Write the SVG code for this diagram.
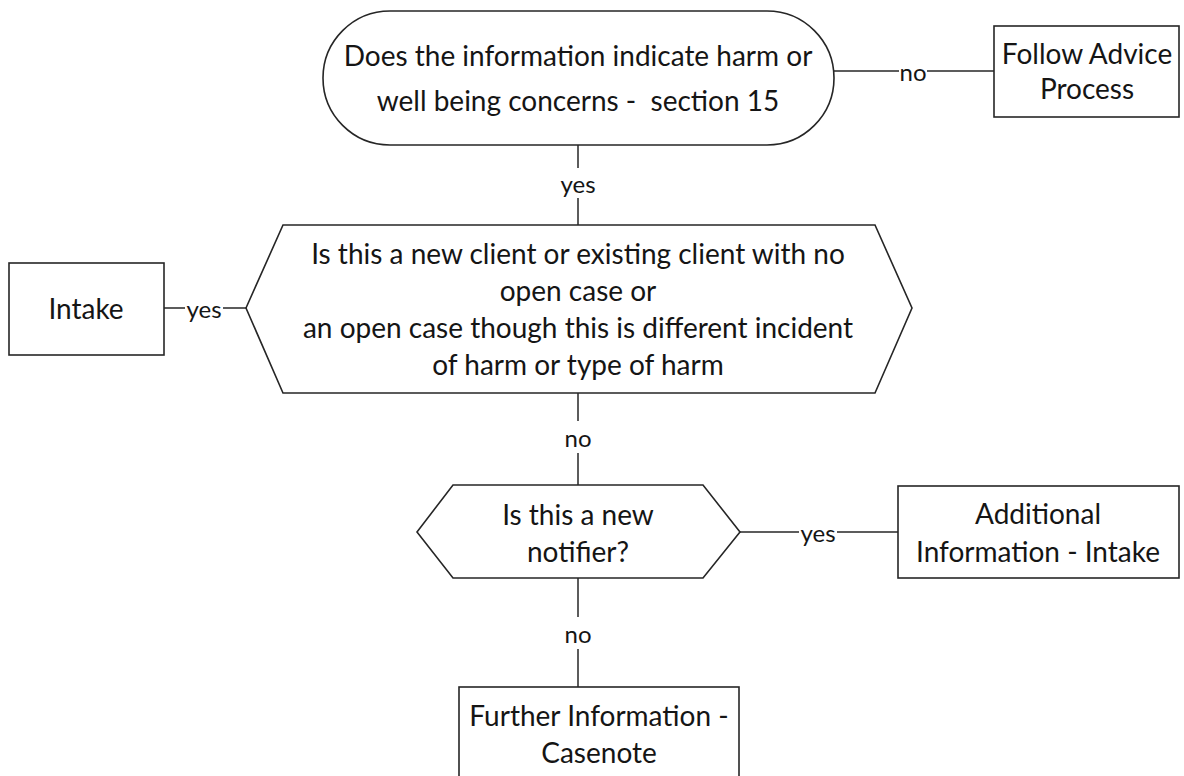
<svg xmlns="http://www.w3.org/2000/svg" width="1184" height="776" viewBox="0 0 1184 776">
<style>
.shape{fill:#fff;stroke:#262626;stroke-width:1.6}
.conn{stroke:#262626;stroke-width:1.5;fill:none}
.t{font-family:Lato,"Liberation Sans",sans-serif;font-size:28px;fill:#151515;text-anchor:middle;dominant-baseline:central}
.lbl{font-family:Lato,"Liberation Sans",sans-serif;font-size:24px;fill:#151515;text-anchor:middle;dominant-baseline:central}
.bg{fill:#fff}
</style>
<rect width="1184" height="776" fill="#fff"/>
<g id="connectors">
<line class="conn" x1="578" y1="145" x2="578" y2="225"/>
<line class="conn" x1="834" y1="71" x2="994" y2="71"/>
<line class="conn" x1="164" y1="308" x2="246" y2="308"/>
<line class="conn" x1="578" y1="393" x2="578" y2="485"/>
<line class="conn" x1="740" y1="532" x2="898" y2="532"/>
<line class="conn" x1="578" y1="578" x2="578" y2="687"/>
<rect class="bg" x="559" y="168" width="38" height="30"/>
<text class="lbl" x="578" y="183">yes</text>
<rect class="bg" x="899" y="60" width="28" height="22"/>
<text class="lbl" x="913" y="71">no</text>
<rect class="bg" x="185" y="297" width="38" height="22"/>
<text class="lbl" x="204" y="308">yes</text>
<rect class="bg" x="564" y="421" width="28" height="32"/>
<text class="lbl" x="578" y="437">no</text>
<rect class="bg" x="799" y="521" width="38" height="22"/>
<text class="lbl" x="818" y="532">yes</text>
<rect class="bg" x="564" y="617" width="28" height="32"/>
<text class="lbl" x="578" y="633">no</text>
</g>
<g id="harm-question">
<rect class="shape" x="323" y="11" width="511" height="134" rx="67" ry="67"/>
<text class="t" x="578" y="55">Does the information indicate harm or</text>
<text class="t" x="578" y="100" xml:space="preserve">well being concerns -  section 15</text>
</g>
<g id="follow-advice">
<rect class="shape" x="994" y="26" width="185" height="91"/>
<text class="t" x="1087" y="53">Follow Advice</text>
<text class="t" x="1087" y="88">Process</text>
</g>
<g id="client-question">
<polygon class="shape" points="246,308 283,225 875,225 912,308 875,393 283,393"/>
<text class="t" x="578" y="253">Is this a new client or existing client with no</text>
<text class="t" x="578" y="290">open case or</text>
<text class="t" x="578" y="327">an open case though this is different incident</text>
<text class="t" x="578" y="364">of harm or type of harm</text>
</g>
<g id="intake">
<rect class="shape" x="9" y="263" width="155" height="92"/>
<text class="t" x="86" y="308">Intake</text>
</g>
<g id="notifier-question">
<polygon class="shape" points="417,532 453,485 703,485 740,532 703,578 453,578"/>
<text class="t" x="578" y="514">Is this a new</text>
<text class="t" x="578" y="551">notifier?</text>
</g>
<g id="additional-info">
<rect class="shape" x="898" y="486" width="281" height="92"/>
<text class="t" x="1038" y="513">Additional</text>
<text class="t" x="1038" y="551">Information - Intake</text>
</g>
<g id="further-info">
<rect class="shape" x="459" y="687" width="280" height="120"/>
<text class="t" x="599" y="715">Further Information -</text>
<text class="t" x="599" y="752">Casenote</text>
</g>
</svg>
